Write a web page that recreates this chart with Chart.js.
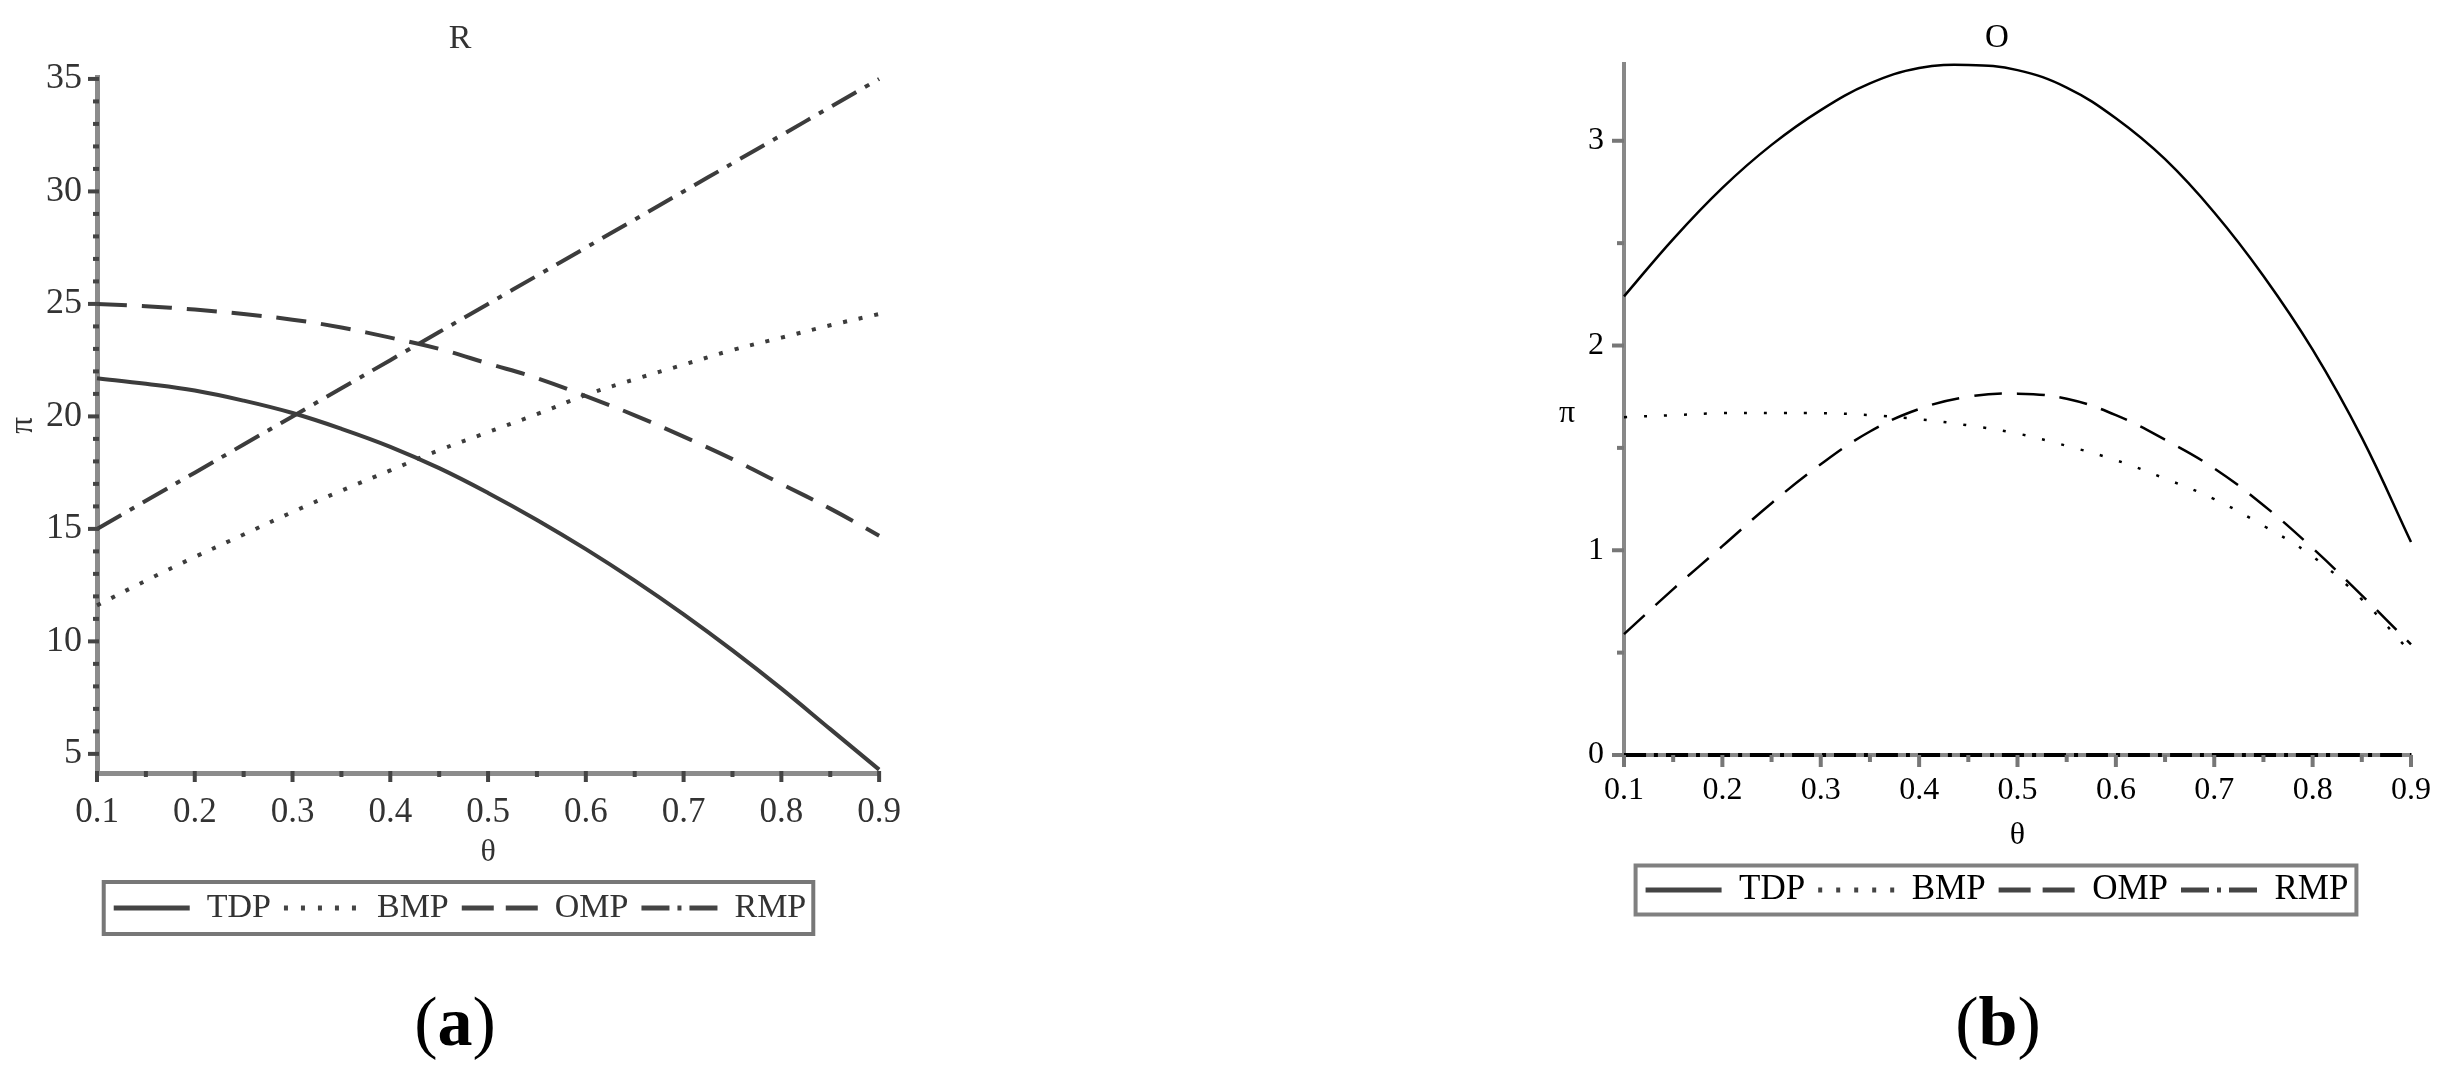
<!DOCTYPE html>
<html><head><meta charset="utf-8">
<script src="https://cdn.jsdelivr.net/npm/chart.js@4.4.1/dist/chart.umd.min.js"></script>
<style>
html,body{margin:0;padding:0;background:#fff;}
body{width:2463px;height:1078px;position:relative;overflow:hidden;}
#wa{position:absolute;left:0;top:0;width:920px;height:1078px;}
#wb{position:absolute;left:1547px;top:0;width:900px;height:1078px;}
.cap{position:absolute;top:987px;font-family:'Liberation Serif',serif;font-size:70px;line-height:70px;color:#000;transform:translateX(-50%);white-space:nowrap;}
</style></head><body>
<div id="wa"><canvas id="ca" width="920" height="1078"></canvas></div>
<div id="wb"><canvas id="cb" width="900" height="1078"></canvas></div>
<div class="cap" style="left:455px">(<b>a</b>)</div>
<div class="cap" style="left:1998px">(<b>b</b>)</div>
<script>
// ---------- data ----------
const seriesNames = ['TDP', 'BMP', 'OMP', 'RMP'];
const theta = [0.10, 0.15, 0.20, 0.25, 0.30, 0.35, 0.40, 0.45, 0.50, 0.55, 0.60, 0.65, 0.70, 0.75, 0.80, 0.85, 0.90];
const xTicks = [0.1, 0.2, 0.3, 0.4, 0.5, 0.6, 0.7, 0.8, 0.9];
const xTickLabels = ['0.1', '0.2', '0.3', '0.4', '0.5', '0.6', '0.7', '0.8', '0.9'];
const xMinor = [0.15, 0.25, 0.35, 0.45, 0.55, 0.65, 0.75, 0.85];

// panel (a) : R
const aTitle = 'R';
const aTDP = [21.7, 21.45, 21.15, 20.7, 20.15, 19.45, 18.65, 17.7, 16.6, 15.4, 14.1, 12.7, 11.2, 9.6, 7.9, 6.1, 4.3];
const aBMP = [11.6, 12.7, 13.75, 14.75, 15.75, 16.7, 17.6, 18.5, 19.3, 20.1, 20.95, 21.65, 22.3, 22.95, 23.5, 24.05, 24.55];
const aOMP = [25.0, 24.9, 24.75, 24.55, 24.3, 23.95, 23.5, 23.0, 22.35, 21.7, 20.9, 20.05, 19.1, 18.1, 17.0, 15.9, 14.7];
const aRMP = [15.0, 16.25, 17.5, 18.75, 20.0, 21.25, 22.5, 23.75, 25.0, 26.25, 27.5, 28.75, 30.0, 31.25, 32.5, 33.75, 35.0];
const aYTicks = [5, 10, 15, 20, 25, 30, 35];
const aYTickLabels = ['5', '10', '15', '20', '25', '30', '35'];
const aYMinor = [6, 7, 8, 9, 11, 12, 13, 14, 16, 17, 18, 19, 21, 22, 23, 24, 26, 27, 28, 29, 31, 32, 33, 34];

// panel (b) : O
const bTitle = 'O';
const bTDP = [2.24, 2.52, 2.77, 2.98, 3.15, 3.28, 3.355, 3.37, 3.345, 3.26, 3.11, 2.91, 2.65, 2.34, 1.98, 1.55, 1.04];
const bBMP = [1.65, 1.66, 1.67, 1.67, 1.67, 1.66, 1.64, 1.61, 1.57, 1.51, 1.44, 1.35, 1.25, 1.12, 0.97, 0.76, 0.50];
const bOMP = [0.59, 0.81, 1.02, 1.23, 1.42, 1.58, 1.69, 1.75, 1.765, 1.74, 1.66, 1.54, 1.40, 1.22, 1.01, 0.78, 0.54];
const bRMP = [0, 0, 0, 0, 0, 0, 0, 0, 0, 0, 0, 0, 0, 0, 0, 0, 0];
const bYTicks = [0, 1, 2, 3];
const bYTickLabels = ['0', '1', '2', '3'];
const bYMinor = [0.5, 1.5, 2.5];

const axisLabelX = 'θ';
const axisLabelY = 'π';

// ---------- plugins ----------
const tickMarks = {
  id: 'tickMarks',
  afterDraw(chart, args, o) {
    const ctx = chart.ctx, ca = chart.chartArea;
    ctx.save();
    ctx.strokeStyle = o.color;
    ctx.lineCap = 'butt';
    ctx.setLineDash([]);
    const draw = (axis, vals, len) => {
      const s = chart.scales[axis];
      ctx.lineWidth = o.width;
      vals.forEach(v => {
        const p = s.getPixelForValue(v);
        ctx.beginPath();
        if (axis === 'x') { ctx.moveTo(p, ca.bottom - o.inner); ctx.lineTo(p, ca.bottom + len); }
        else { ctx.moveTo(ca.left + o.inner, p); ctx.lineTo(ca.left - len, p); }
        ctx.stroke();
      });
    };
    draw('x', o.xMajor, o.majorLen);
    draw('x', o.xMinor, o.minorLen);
    draw('y', o.yMajor, o.majorLen);
    draw('y', o.yMinor, o.minorLen);
    ctx.restore();
  }
};
const legendBox = {
  id: 'legendBox',
  afterDraw(chart, args, o) {
    const hb = chart.legend && chart.legend.legendHitBoxes;
    if (!hb || !hb.length) return;
    const ctx = chart.ctx;
    const first = hb[0], last = hb[hb.length - 1];
    const cy = first.top + first.height / 2;
    const l = first.left - o.padLeft, r = last.left + last.width + o.padRight;
    ctx.save();
    ctx.setLineDash([]);
    ctx.strokeStyle = o.color;
    ctx.lineWidth = o.width;
    ctx.strokeRect(l, cy - o.halfH, r - l, 2 * o.halfH);
    ctx.restore();
  }
};
const uprightYLabel = {
  id: 'uprightYLabel',
  afterDraw(chart, args, o) {
    if (!o || !o.text) return;
    const ctx = chart.ctx, ca = chart.chartArea;
    ctx.save();
    ctx.font = o.font;
    ctx.fillStyle = o.color;
    ctx.textAlign = 'center';
    ctx.textBaseline = 'middle';
    ctx.fillText(o.text, ca.left + o.dx, (ca.top + ca.bottom) / 2 + o.dy);
    ctx.restore();
  }
};

Chart.defaults.font.family = "'Liberation Serif', 'Times New Roman', serif";

function makeDatasets(vals, color, width, dashes) {
  return seriesNames.map((n, i) => ({
    label: n,
    data: theta.map((t, k) => ({x: t, y: vals[i][k]})),
    borderColor: color,
    backgroundColor: color,
    borderWidth: width[i],
    borderDash: dashes[i],
    pointRadius: 0,
    pointHoverRadius: 0,
    pointStyle: 'line',
    fill: false,
    tension: 0.4,
    clip: false
  }));
}

function makeChart(id, cfg) {
  return new Chart(document.getElementById(id), {
    type: 'line',
    data: {datasets: makeDatasets(cfg.vals, cfg.lineColor, cfg.lineWidths, cfg.dashes)},
    plugins: cfg.plugins,
    options: {
      responsive: false,
      animation: false,
      devicePixelRatio: 1,
      events: [],
      layout: {padding: {left: 0, right: 0, top: 0, bottom: cfg.padBottom}},
      plugins: {
        title: {display: true, text: cfg.title, color: cfg.textColor,
                font: {size: cfg.titleSize, weight: 'normal'}, padding: cfg.titlePad},
        legend: {
          display: true, position: 'bottom',
          labels: {
            usePointStyle: true, pointStyleWidth: 76, padding: 13,
            color: cfg.textColor, font: {size: cfg.legendSize},
            generateLabels: (chart) => Chart.defaults.plugins.legend.labels.generateLabels(chart).map(l => {
              l.lineWidth = cfg.legendLineWidth;
              l.strokeStyle = cfg.legendLineColor;
              l.lineDash = cfg.legendDashes[l.datasetIndex];
              l.pointStyle = 'line';
              return l;
            })
          }
        },
        tooltip: {enabled: false},
        tickMarks: cfg.tickOpts,
        legendBox: cfg.boxOpts,
        uprightYLabel: cfg.yLabelOpts || {}
      },
      scales: {
        x: {
          type: 'linear', min: 0.1, max: 0.9,
          afterBuildTicks: s => { s.ticks = xTicks.map(v => ({value: v})); },
          afterFit: s => { s.height = cfg.xHeight; },
          ticks: {callback: (v, i) => xTickLabels[i], color: cfg.textColor, font: {size: cfg.xTickSize},
                  padding: cfg.xTickPad, maxRotation: 0, autoSkip: false},
          grid: {display: false, drawTicks: false},
          border: {display: true, color: cfg.axisColor, width: cfg.axisWidth},
          title: {display: true, text: axisLabelX, color: cfg.textColor, font: {size: 32},
                  padding: {top: 0, bottom: cfg.xTitlePadBottom}}
        },
        y: {
          type: 'linear', min: cfg.yMin, max: cfg.yMax,
          afterBuildTicks: s => { s.ticks = cfg.yTicks.map(v => ({value: v})); },
          afterFit: s => { s.width = cfg.yWidth; },
          ticks: {callback: (v, i) => cfg.yTickLabels[i], color: cfg.textColor, font: {size: cfg.yTickSize},
                  padding: cfg.yTickPad, autoSkip: false},
          grid: {display: false, drawTicks: false},
          border: {display: true, color: cfg.axisColor, width: cfg.axisWidth},
          title: {display: cfg.rotatedYTitle, text: axisLabelY, color: cfg.textColor, font: {size: 33},
                  padding: {top: 4, bottom: 0}}
        }
      }
    }
  });
}

makeChart('ca', {
  vals: [aTDP, aBMP, aOMP, aRMP],
  title: aTitle,
  lineColor: '#3c3c3c',
  lineWidths: [4, 4, 4, 4],
  dashes: [[], [4, 12], [30, 15], [28, 10, 5, 10]],
  legendDashes: [[], [4, 13], [32, 12], [28, 8, 4, 8]],
  legendLineWidth: 5, legendLineColor: '#444',
  plugins: [tickMarks, legendBox],
  padBottom: 143,
  textColor: '#333',
  titleSize: 34, titlePad: {top: 19, bottom: 18},
  legendSize: 34,
  xTickSize: 35, yTickSize: 36,
  axisColor: '#8c8c8c', axisWidth: 5,
  xHeight: 105, xTickPad: 19, xTitlePadBottom: 6,
  yWidth: 97, yTickPad: 15,
  yMin: 4.15, yMax: 35.05,
  yTicks: aYTicks, yTickLabels: aYTickLabels,
  rotatedYTitle: true,
  tickOpts: {color: '#444', width: 4, majorLen: 9, minorLen: 4, inner: 2,
             xMajor: xTicks, xMinor: xMinor, yMajor: aYTicks, yMinor: aYMinor},
  boxOpts: {color: '#777', width: 4, padLeft: 10, padRight: 7, halfH: 26}
});

makeChart('cb', {
  vals: [bTDP, bBMP, bOMP, bRMP],
  title: bTitle,
  lineColor: '#000',
  lineWidths: [2.5, 2.5, 2.5, 4],
  dashes: [[], [3, 17], [28, 15], [22, 8, 4, 8]],
  legendDashes: [[], [4, 14], [32, 12], [28, 8, 4, 8]],
  legendLineWidth: 5, legendLineColor: '#444',
  plugins: [tickMarks, legendBox, uprightYLabel],
  padBottom: 160.5,
  textColor: '#000',
  titleSize: 33, titlePad: {top: 19, bottom: 5.4},
  legendSize: 35,
  xTickSize: 32, yTickSize: 32,
  axisColor: '#888', axisWidth: 4,
  xHeight: 104.5, xTickPad: 16, xTitlePadBottom: 4.3,
  yWidth: 77, yTickPad: 20,
  yMin: 0, yMax: 3.375,
  yTicks: bYTicks, yTickLabels: bYTickLabels,
  rotatedYTitle: false,
  yLabelOpts: {text: axisLabelY, font: "32px 'Liberation Serif'", color: '#000', dx: -57, dy: 4},
  tickOpts: {color: '#777', width: 4, majorLen: 12, minorLen: 7, inner: 0,
             xMajor: xTicks, xMinor: xMinor, yMajor: bYTicks, yMinor: bYMinor},
  boxOpts: {color: '#808080', width: 4, padLeft: 10, padRight: 8, halfH: 24.5}
});
</script>
</body></html>
